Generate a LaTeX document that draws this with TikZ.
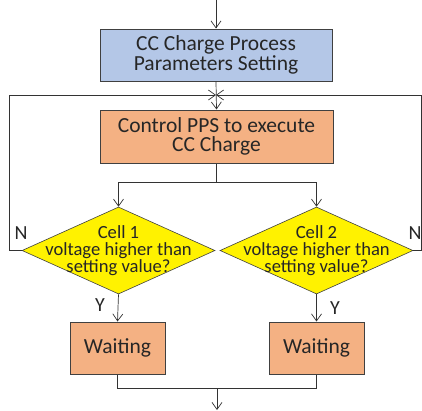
\documentclass[tikz,border=0pt]{standalone}
\usepackage{fontspec}
\setmainfont{Carlito}
\usetikzlibrary{shapes.geometric,arrows.meta}
\definecolor{boxblue}{HTML}{B4C7E7}
\definecolor{boxorange}{HTML}{F4B183}
\definecolor{edgegray}{HTML}{404040}
\tikzset{
  box/.style={draw=edgegray,line width=1pt,inner sep=0pt,align=center,font=\fontsize{21.5}{19.5}\selectfont,text=black!85},
  dec/.style={draw=edgegray,line width=0.6pt,fill=yellow,diamond,inner sep=0pt,minimum width=193pt,minimum height=87pt},
  dectext/.style={inner sep=0pt,align=center,font=\fontsize{18.6}{17}\selectfont,text=black!85},
  arr/.style={-{Straight Barb[length=7pt,width=10pt]},line width=0.7pt,draw=black!80},
  ln/.style={line width=0.7pt,draw=black!80},
  lab/.style={font=\fontsize{20}{20}\selectfont,text=black!85}
}
\begin{document}
\begin{tikzpicture}[x=1pt,y=-1pt]
\useasboundingbox (0,0) rectangle (422,410);
\node[box,fill=boxblue,minimum width=232pt,minimum height=52pt] (set) at (216,55) {CC Charge Process\\Parameters Setting};
\node[box,fill=boxorange,minimum width=233pt,minimum height=53pt] (ctrl) at (216.5,136.5) {Control PPS to execute\\CC Charge};
\node[dec] (d1) at (118.5,250.5) {};
\node[dec] (d2) at (316.5,250.5) {};
\node[dectext] (t1) at (d1.center) {Cell 1\\voltage higher than\\setting value?};
\node[dectext] (t2) at (d2.center) {Cell 2\\voltage higher than\\setting value?};
\node[box,fill=boxorange,minimum width=95pt,minimum height=52pt] (w1) at (117.5,348) {Waiting};
\node[box,fill=boxorange,minimum width=95pt,minimum height=52pt] (w2) at (316.5,348) {Waiting};
\coordinate (top) at (216,0);
\coordinate (join) at (216,95);
\coordinate (lft) at (9,95);
\coordinate (rgt) at (421.5,95);
\coordinate (split) at (216.5,182);
\coordinate (merge) at (217,388);
\coordinate (bot) at (217,410);
\draw[arr] (top) -- (set.north);
\draw[arr] (set.south) -- (ctrl.north);
\draw[ln] (ctrl.south) -- (split);
\draw[arr] (split) -| (d1.north);
\draw[arr] (split) -| (d2.north);
\draw[arr] (d1.south) -- (w1.north);
\draw[arr] (d2.south) -- (w2.north);
\draw[ln] (w1.south) |- (merge);
\draw[ln] (w2.south) |- (merge);
\draw[arr] (merge) -- (bot);
\draw[ln] (d1.west) -| (lft);
\draw[arr] (lft) -- (join);
\draw[ln] (d2.east) -| (rgt);
\draw[arr] (rgt) -- (join);
\node[lab] (n1) at (21,233) {N};
\node[lab] (n2) at (415,233) {N};
\node[lab] (y1) at (100,305) {Y};
\node[lab] (y2) at (335,308) {Y};
\end{tikzpicture}
\end{document}
